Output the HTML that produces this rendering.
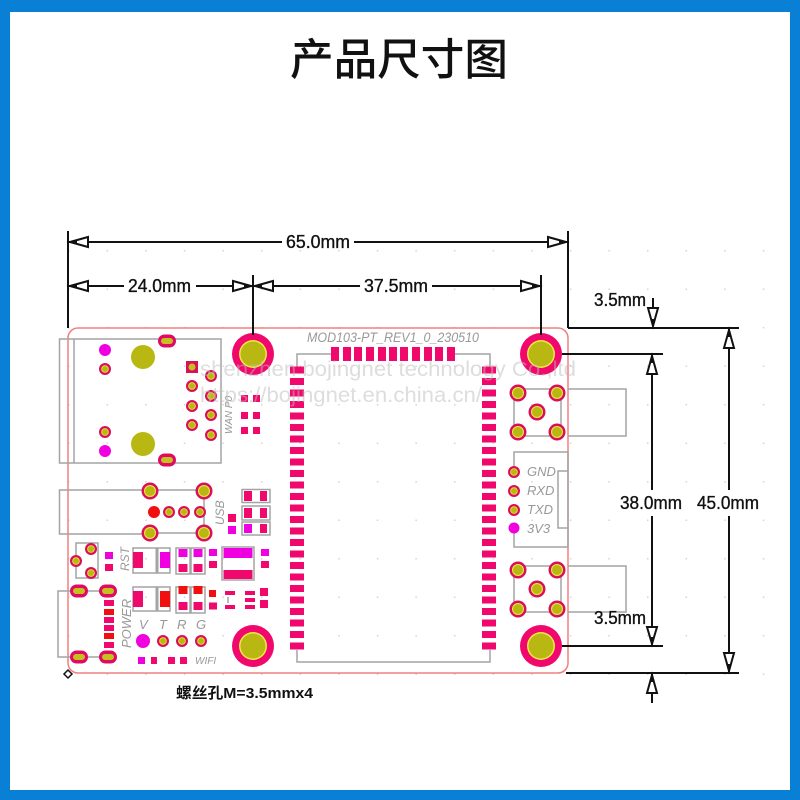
<!DOCTYPE html>
<html><head><meta charset="utf-8"><style>
html,body{margin:0;padding:0;background:#fff}
svg{display:block}
text{font-family:"Liberation Sans","Noto Sans CJK SC",sans-serif}
.d{font-size:18px;fill:#111;stroke:#111;stroke-width:.35}
.g{font-size:13px;fill:#999;font-style:italic}
.w{font-size:21px;fill:#bbb;fill-opacity:.5}
</style></head><body>
<svg width="800" height="800" viewBox="0 0 800 800" xmlns="http://www.w3.org/2000/svg">
<defs>
<pattern id="grid" x="68" y="250" width="38.6" height="38.5" patternUnits="userSpaceOnUse"><rect x="0" y="0" width="1.5" height="1.5" fill="#d4d4d4"/></pattern>
<g id="h"><circle r="21" fill="#f0086c"/><circle r="14" fill="#f2e84a"/><circle r="12.5" fill="#b9b712"/></g>
<g id="p"><circle r="8.5" fill="#d8105a"/><circle r="6" fill="#f0e84a"/><circle r="5" fill="#b9b712"/></g>
<g id="s"><circle r="6" fill="#d8105a"/><circle r="3.8" fill="#f0e84a"/><circle r="3" fill="#b9b712"/></g>
<g id="o"><rect x="-9" y="-6.500" width="18" height="13" rx="6.500" fill="#e00a62"/><rect x="-6" y="-3" width="12" height="6" rx="3" fill="#c4c020"/></g>
<g id="col" fill="#f0086c"><rect y="366.5" width="14" height="7"/><rect y="378" width="14" height="7"/><rect y="389.5" width="14" height="7"/><rect y="401" width="14" height="7"/><rect y="412.5" width="14" height="7"/><rect y="424" width="14" height="7"/><rect y="435.5" width="14" height="7"/><rect y="447" width="14" height="7"/><rect y="458.5" width="14" height="7"/><rect y="470" width="14" height="7"/><rect y="481.5" width="14" height="7"/><rect y="493" width="14" height="7"/><rect y="504.5" width="14" height="7"/><rect y="516" width="14" height="7"/><rect y="527.5" width="14" height="7"/><rect y="539" width="14" height="7"/><rect y="550.5" width="14" height="7"/><rect y="562" width="14" height="7"/><rect y="573.5" width="14" height="7"/><rect y="585" width="14" height="7"/><rect y="596.5" width="14" height="7"/><rect y="608" width="14" height="7"/><rect y="619.5" width="14" height="7"/><rect y="631" width="14" height="7"/><rect y="642.5" width="14" height="7"/></g>
</defs>
<rect width="800" height="800" fill="#0a7fd6"/>
<rect x="10" y="12" width="780" height="778" fill="#fff"/>
<rect x="68" y="250" width="712" height="440" fill="url(#grid)"/>

<text x="290" y="75" font-size="43.6" font-weight="500" fill="#111" style="font-family:'Noto Sans CJK SC',sans-serif">产品尺寸图</text>

<!-- board outline -->
<rect x="68" y="328" width="500" height="345" rx="10" fill="none" stroke="#f08080" stroke-width="1.5"/>

<!-- silkscreen -->
<g fill="none" stroke="#a4a4a4" stroke-width="1.5">
<rect x="59.5" y="339" width="161.500" height="124"/><path d="M74 339V463"/>
<path d="M150 490H59.500V534H150M204 491V533M158 490H196M158 533H196"/>
<rect x="76" y="543" width="22" height="35"/>
<rect x="133" y="548" width="37" height="25"/><path d="M157 548V573" stroke-width="3"/>
<rect x="133" y="587" width="37" height="24"/><path d="M157 587V611" stroke-width="3"/>
<rect x="176" y="548" width="14" height="26"/><rect x="191" y="548" width="14" height="26"/>
<rect x="176" y="587" width="14" height="26"/><rect x="191" y="587" width="14" height="26"/>
<rect x="222" y="547" width="32" height="33"/>
<rect x="242" y="489.500" width="28" height="13"/><rect x="242" y="506" width="28" height="14"/><rect x="242" y="522" width="28" height="13"/>
<path d="M108 591H79H58V657H79H108M228 597V603"/>
<path d="M297 370V354H335M451 354H490V370M297 650V662H490V650"/>
<rect x="514" y="389" width="47" height="47"/><path d="M568 389H626V436H568"/>
<rect x="514" y="566" width="47" height="46"/><path d="M568 566H626V612H568"/>
<path d="M514 470V452H568V547H514V528M568 471H558V528H568"/>
</g>

<!-- module pads -->
<use href="#col" x="290"/><use href="#col" x="482"/>
<g fill="#f0086c"><rect x="331" y="347" width="8" height="14"/><rect x="343" y="347" width="8" height="14"/><rect x="354" y="347" width="8" height="14"/><rect x="366" y="347" width="8" height="14"/><rect x="378" y="347" width="8" height="14"/><rect x="389" y="347" width="8" height="14"/><rect x="400" y="347" width="8" height="14"/><rect x="412" y="347" width="8" height="14"/><rect x="424" y="347" width="8" height="14"/><rect x="435" y="347" width="8" height="14"/><rect x="447" y="347" width="8" height="14"/></g>

<!-- mounting holes -->
<use href="#h" x="253" y="354"/><use href="#h" x="541" y="354"/><use href="#h" x="253" y="646"/><use href="#h" x="541" y="646"/>

<!-- RJ45 -->
<use href="#o" x="167" y="341"/><use href="#o" x="167" y="460"/>
<circle cx="105" cy="350" r="6" fill="#f000e0"/><circle cx="105" cy="451" r="6" fill="#f000e0"/>
<use href="#s" x="105" y="369"/><use href="#s" x="105" y="432"/>
<circle cx="143" cy="357" r="12" fill="#b9b712"/><circle cx="143" cy="444" r="12" fill="#b9b712"/>
<rect x="186" y="361" width="12" height="12" fill="#d8105a"/><circle cx="192" cy="367" r="3.500" fill="#c4c020"/>
<use href="#s" x="192" y="386"/><use href="#s" x="192" y="406"/><use href="#s" x="192" y="425"/>
<use href="#s" x="211" y="376"/><use href="#s" x="211" y="396"/><use href="#s" x="211" y="415"/><use href="#s" x="211" y="435"/>
<g fill="#f0086c"><rect x="241" y="395" width="7" height="7"/><rect x="253" y="395" width="7" height="7"/><rect x="241" y="412" width="7" height="7"/><rect x="253" y="412" width="7" height="7"/><rect x="241" y="427" width="7" height="7"/><rect x="253" y="427" width="7" height="7"/></g>

<!-- USB -->
<use href="#p" x="150" y="491"/><use href="#p" x="204" y="491"/><use href="#p" x="150" y="533"/><use href="#p" x="204" y="533"/>
<circle cx="154" cy="512" r="6" fill="#f01010"/><use href="#s" x="169" y="512"/><use href="#s" x="184" y="512"/><use href="#s" x="200" y="512"/>
<g fill="#f0086c"><rect x="244" y="491" width="8" height="10"/><rect x="260" y="491" width="7" height="10"/><rect x="244" y="508" width="8" height="10"/><rect x="260" y="508" width="7" height="10"/><rect x="260" y="524" width="7" height="9"/><rect x="228" y="514" width="8" height="8"/></g>
<rect x="244" y="524" width="8" height="9" fill="#f000e0"/><rect x="228" y="526" width="8" height="8" fill="#f000e0"/>

<!-- RST -->
<use href="#s" x="91" y="549"/><use href="#s" x="76" y="561"/><use href="#s" x="91" y="573"/>
<rect x="105" y="552" width="8" height="7" fill="#f000e0"/><rect x="105" y="564" width="8" height="7" fill="#f0086c"/>
<rect x="133" y="552" width="10" height="16" fill="#f0086c"/><rect x="160" y="552" width="10" height="16" fill="#f000e0"/>
<rect x="133" y="591" width="10" height="16" fill="#f0086c"/><rect x="160" y="591" width="10" height="16" fill="#f01010"/>
<g fill="#f000e0"><rect x="178.500" y="549" width="9" height="8"/><rect x="193.500" y="549" width="9" height="8"/><rect x="209" y="549" width="8" height="7"/><rect x="223.500" y="548" width="29" height="10"/><rect x="261" y="549" width="8" height="7"/></g>
<g fill="#f0086c"><rect x="178.500" y="564" width="9" height="8"/><rect x="193.500" y="564" width="9" height="8"/><rect x="209" y="561" width="8" height="7"/><rect x="223.500" y="570" width="29" height="9"/><rect x="261" y="561" width="8" height="7"/>
<rect x="178.500" y="602" width="9" height="8"/><rect x="193.500" y="602" width="9" height="8"/><rect x="209" y="602.500" width="8" height="7"/><rect x="225" y="605" width="10" height="4"/><rect x="245" y="605" width="10" height="4"/><rect x="245" y="598" width="10" height="4"/><rect x="245" y="591" width="10" height="4"/><rect x="225" y="591" width="10" height="4"/><rect x="260" y="588" width="8" height="8"/><rect x="260" y="600" width="8" height="8"/></g>
<g fill="#f01010"><rect x="178.500" y="586" width="9" height="8"/><rect x="193.500" y="586" width="9" height="8"/><rect x="209" y="590" width="7" height="7"/></g>

<!-- POWER -->
<use href="#o" x="79" y="591"/><use href="#o" x="108" y="591"/><use href="#o" x="79" y="657"/><use href="#o" x="108" y="657"/>
<g fill="#f0086c"><rect x="104" y="600" width="10" height="6"/><rect x="104" y="617" width="10" height="6"/><rect x="104" y="625" width="10" height="6"/><rect x="104" y="642" width="10" height="6"/></g>
<g fill="#f01010"><rect x="104" y="609" width="10" height="6"/><rect x="104" y="633" width="10" height="6"/></g>

<!-- LEDs -->
<circle cx="143" cy="641" r="7" fill="#f000e0"/><use href="#s" x="163" y="641"/><use href="#s" x="182" y="641"/><use href="#s" x="201" y="641"/>
<rect x="138" y="657" width="7" height="7" fill="#f000e0"/><rect x="151" y="657" width="6" height="7" fill="#f0086c"/><rect x="168" y="657" width="7" height="7" fill="#f0086c"/><rect x="180" y="657" width="7" height="7" fill="#f0086c"/>

<!-- right side pads -->
<use href="#p" x="518" y="393"/><use href="#p" x="557" y="393"/><use href="#p" x="537" y="412"/><use href="#p" x="518" y="432"/><use href="#p" x="557" y="432"/>
<use href="#p" x="518" y="570"/><use href="#p" x="557" y="570"/><use href="#p" x="537" y="589"/><use href="#p" x="518" y="609"/><use href="#p" x="557" y="609"/>
<use href="#s" x="514" y="472"/><use href="#s" x="514" y="491"/><use href="#s" x="514" y="510"/><circle cx="514" cy="528" r="5.500" fill="#f000e0"/>

<!-- silk text -->
<text x="307" y="342" class="g" style="font-size:13.500px" textLength="172" lengthAdjust="spacingAndGlyphs">MOD103-PT_REV1_0_230510</text>
<text x="527" y="476" class="g">GND</text><text x="527" y="495" class="g">RXD</text><text x="527" y="514" class="g">TXD</text><text x="527" y="533" class="g">3V3</text>
<text class="g" style="font-size:10px" transform="translate(232,434) rotate(-90)">WAN P0</text>
<text class="g" style="font-size:12px" transform="translate(224,525) rotate(-90)">USB</text>
<text class="g" style="font-size:12px" transform="translate(129,571) rotate(-90)">RST</text>
<text class="g" style="font-size:13px" transform="translate(131,648) rotate(-90)">POWER</text>
<text x="139" y="629" class="g">V</text><text x="159" y="629" class="g">T</text><text x="177" y="629" class="g">R</text><text x="196" y="629" class="g">G</text>
<text x="195" y="664" class="g" style="font-size:10px">WIFI</text>

<!-- watermark -->
<text x="200" y="376" class="w" textLength="376" lengthAdjust="spacingAndGlyphs">shenzhen bojingnet technology Co.,ltd</text>
<text x="200" y="402" class="w" textLength="282" lengthAdjust="spacingAndGlyphs">https://bojingnet.en.china.cn/</text>

<!-- dimension lines -->
<g stroke="#111" stroke-width="2" fill="none">
<path d="M68 231V328M568 231V328M253 275V335M541 275V335"/>
<path d="M68 242H282M354 242H568M68 286H124M196 286H253M253 286H360M432 286H541"/>
<path d="M568 328H739M562 354H663M562 646H663M566 673H739"/>
<path d="M653 298V326M652 354V490M652 516V646M729 328V490M729 516V673M652 673V703"/>
</g>
<g stroke="#111" stroke-width="2" fill="#fff" stroke-linejoin="miter">
<path d="M70 242L88 237V247Z"/><path d="M566 242L548 237V247Z"/>
<path d="M70 286L88 281V291Z"/><path d="M251 286L233 281V291Z"/>
<path d="M255 286L273 281V291Z"/><path d="M539 286L521 281V291Z"/>
<path d="M653 326L648 308H658Z"/><path d="M652 356L647 374H657Z"/>
<path d="M652 644L647 627H657Z"/><path d="M652 675L647 693H657Z"/>
<path d="M729 330L724 348H734Z"/><path d="M729 671L724 653H734Z"/>
</g>
<path d="M70 242l7-2v4zM566 242l-7-2v4zM70 286l7-2v4zM251 286l-7-2v4zM255 286l7-2v4zM539 286l-7-2v4zM653 326l-2-7h4zM652 356l-2 7h4zM652 644l-2-7h4zM652 675l-2 7h4zM729 330l-2 7h4zM729 671l-2-7h4z" fill="#111"/>
<path d="M68 670l4 4-4 4-4-4z" fill="#fff" stroke="#111" stroke-width="1.500"/>

<g class="d">
<text x="286" y="248" textLength="64" lengthAdjust="spacingAndGlyphs">65.0mm</text>
<text x="128" y="292" textLength="63" lengthAdjust="spacingAndGlyphs">24.0mm</text>
<text x="364" y="292" textLength="64" lengthAdjust="spacingAndGlyphs">37.5mm</text>
<text x="594" y="306" textLength="52" lengthAdjust="spacingAndGlyphs">3.5mm</text>
<text x="620" y="509" textLength="62" lengthAdjust="spacingAndGlyphs">38.0mm</text>
<text x="697" y="509" textLength="62" lengthAdjust="spacingAndGlyphs">45.0mm</text>
<text x="594" y="624" textLength="52" lengthAdjust="spacingAndGlyphs">3.5mm</text>
</g>
<text x="176" y="698" font-size="15" font-weight="bold" fill="#111" textLength="137" lengthAdjust="spacingAndGlyphs">螺丝孔M=3.5mmx4</text>
</svg>
</body></html>
